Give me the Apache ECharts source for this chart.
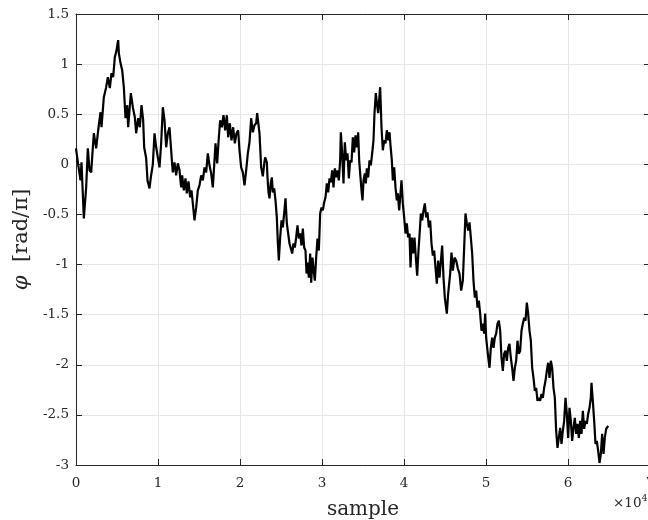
<!DOCTYPE html>
<html>
<head>
<meta charset="utf-8">
<script src="https://cdn.jsdelivr.net/npm/echarts@6/dist/echarts.min.js"></script>
<style>
  html, body { margin: 0; padding: 0; background: #ffffff; }
  #chart { width: 648px; height: 520px; }
</style>
</head>
<body>
<div id="chart"></div>
<script>
// Unwrapped carrier phase (in units of pi) against sample index.
const sampleIdx = [
  0, 264, 549, 671, 955, 1240, 1443, 1646, 1850, 1972, 2175, 2460, 2704, 2988, 3110, 3394,
  3679, 3882, 4126, 4329, 4533, 4736, 4898, 5142, 5224, 5427, 5630, 5833, 6037, 6240, 6362, 6524,
  6687, 6931, 7175, 7337, 7581, 7784, 7988, 8191, 8313, 8557, 8720, 8963, 9126, 9370, 9573, 9777,
  9980, 10183, 10386, 10589, 10793, 10996, 11199, 11402,
  11728, 11809, 12012, 12215, 12418, 12622, 12825, 12947, 13150, 13353, 13516, 13719, 13923, 14085, 14248, 14451,
  14655, 14858, 15061, 15264, 15467, 15671, 15874, 16077, 16280, 16484, 16687, 16890, 17012, 17215, 17419, 17581,
  17784, 17988, 18191, 18394, 18557, 18760, 18963, 19167, 19370, 19573, 19776, 19939, 20142, 20345, 20549, 20752,
  20955, 21158, 21362, 21565, 21768, 21971, 22093, 22215, 22378, 22581, 22784,
  22988, 23069, 23272, 23354, 23476, 23598, 23760, 23882, 24004, 24167, 24329, 24492, 24614, 24736, 24898, 25061,
  25223, 25386, 25549, 25711, 25874, 26037, 26199, 26362, 26524, 26687, 26849, 27012, 27175, 27337, 27500, 27662,
  27825, 27988, 28110, 28232, 28394, 28557, 28679, 28841, 28963, 29126, 29289, 29451, 29614, 29776, 29939, 30101,
  30264, 30427, 30589, 30752, 30915, 31077, 31240, 31402, 31565, 31728, 31890, 32053, 32215, 32297, 32460, 32622,
  32785, 32947, 33110, 33272, 33435, 33598, 33760, 33923, 34085, 34248, 34411,
  34533, 34655, 34817, 34939, 35061, 35223, 35345, 35467, 35630, 35793, 35955, 36118, 36280, 36402, 36565, 36687,
  36850, 36972, 37093, 37175, 37256, 37419, 37581, 37744, 37906, 38069, 38232, 38354, 38516, 38638, 38801, 38963,
  39126, 39248, 39411, 39573, 39695, 39858, 40020, 40183, 40345, 40508, 40671, 40793, 40955, 41118, 41280, 41443,
  41606, 41768, 41931, 42053, 42215, 42378, 42541, 42703, 42866, 43028, 43191, 43354, 43516, 43679, 43841, 44004,
  44167,
  44329, 44654, 44817, 44979, 45223, 45386, 45630, 45792, 45955, 46158, 46362, 46565, 46768, 46971, 47175, 47337,
  47500, 47662, 47825, 47988, 48150, 48313, 48475, 48638, 48801, 48963, 49126, 49288, 49451, 49614, 49776, 49898,
  50020, 50223, 50427, 50589, 50752, 50914, 51077, 51240, 51402, 51565, 51727, 51890, 52052, 52215, 52378, 52540,
  52703, 52865, 53028, 53191, 53353, 53516, 53678, 53841, 54004, 54166, 54329, 54491, 54654, 54817, 54979, 55142,
  55304, 55467, 55630, 55792, 55955, 56118, 56280, 56443, 56605, 56768, 56931, 57093, 57256, 57418, 57581, 57744,
  57906, 58069, 58231, 58394, 58557, 58719, 58882, 59044, 59207, 59370, 59532, 59695, 59857, 60020, 60183, 60345,
  60508, 60670, 60833, 60996, 61158, 61321, 61483, 61646, 61809, 61971, 62134, 62296, 62459, 62622, 62784, 62865,
  63028, 63191, 63353, 63516, 63679, 63841, 64004, 64166, 64329, 64491, 64654, 64817, 64898
];

const phase = [
  0.16, 0.0, -0.16, 0.02, -0.54, -0.23, 0.16, -0.06, -0.08, 0.07, 0.31, 0.16, 0.34, 0.52, 0.37, 0.67,
  0.77, 0.87, 0.76, 0.91, 0.87, 1.07, 1.12, 1.24, 1.11, 1.01, 0.94, 0.77, 0.46, 0.59, 0.37, 0.54,
  0.71, 0.57, 0.47, 0.31, 0.46, 0.37, 0.59, 0.44, 0.17, 0.06, -0.16, -0.24, -0.13, 0.0, 0.31, 0.17,
  0.07, -0.03, 0.21, 0.57, 0.44, 0.17, 0.31, 0.37,
  0.0, -0.08, 0.02, -0.11, 0.01, -0.06, -0.23, -0.11, -0.26, -0.14, -0.29, -0.17, -0.33, -0.26, -0.39, -0.56,
  -0.43, -0.26, -0.21, -0.11, -0.16, -0.03, -0.08, 0.11, -0.01, -0.09, -0.23, 0.04, 0.21, 0.01, 0.27, 0.44,
  0.37, 0.49, 0.34, 0.49, 0.27, 0.41, 0.24, 0.37, 0.21, 0.31, 0.34, 0.14, -0.03, -0.08, -0.21, -0.06,
  0.11, 0.22, 0.46, 0.32, 0.39, 0.41, 0.51, 0.52, 0.31, -0.03, -0.12,
  0.03, 0.07, 0.02, -0.13, -0.28, -0.34, -0.18, -0.13, -0.28, -0.24, -0.36, -0.53, -0.78, -0.96, -0.73, -0.56,
  -0.63, -0.49, -0.34, -0.59, -0.69, -0.79, -0.78, -0.89, -0.79, -0.83, -0.73, -0.61, -0.74, -0.69, -0.81, -0.64,
  -0.83, -0.86, -1.09, -0.98, -1.13, -0.89, -1.18, -0.93, -1.04, -1.16, -0.93, -0.74, -0.86, -0.49, -0.43, -0.46,
  -0.38, -0.33, -0.19, -0.28, -0.14, -0.18, -0.06, -0.23, -0.04, -0.13, -0.06, -0.16, 0.04, 0.32, 0.11, -0.19,
  0.22, 0.04, 0.11, -0.14, 0.04, 0.02, 0.27, 0.12, 0.29, 0.17, 0.32,
  0.04, -0.09, -0.26, -0.36, -0.16, -0.09, -0.19, -0.04, -0.13, 0.04, -0.01, 0.11, 0.24, 0.51, 0.71, 0.61,
  0.51, 0.64, 0.77, 0.57, 0.37, 0.14, 0.24, 0.21, 0.34, 0.24, 0.32, 0.19, 0.04, -0.16, -0.03, -0.23,
  -0.36, -0.29, -0.46, -0.29, -0.16, -0.39, -0.53, -0.69, -0.59, -0.73, -0.69, -1.03, -0.73, -0.89, -0.73, -0.93,
  -1.11, -0.86, -0.66, -0.49, -0.56, -0.46, -0.39, -0.53, -0.48, -0.63, -0.56, -0.79, -0.91, -0.86, -1.03, -1.19,
  -0.96,
  -1.13, -0.81, -1.13, -1.33, -1.49, -1.29, -1.09, -0.88, -1.06, -0.93, -0.96, -1.04, -1.09, -1.26, -1.16, -0.83,
  -0.49, -0.59, -0.66, -0.58, -0.73, -0.89, -1.16, -1.33, -1.26, -1.43, -1.36, -1.49, -1.66, -1.59, -1.69, -1.49,
  -1.73, -1.89, -2.03, -1.83, -1.73, -1.83, -1.73, -1.69, -1.59, -1.56, -1.66, -1.93, -2.06, -1.89, -1.86, -1.96,
  -1.83, -1.79, -1.93, -2.03, -2.16, -2.03, -1.96, -1.76, -1.89, -1.86, -1.66, -1.59, -1.53, -1.56, -1.38, -1.49,
  -1.66, -1.76, -2.03, -2.13, -2.26, -2.23, -2.36, -2.33, -2.36, -2.29, -2.33, -2.23, -2.16, -2.06, -1.98, -2.13,
  -1.96, -2.03, -2.23, -2.33, -2.66, -2.83, -2.73, -2.63, -2.79, -2.66, -2.56, -2.33, -2.49, -2.73, -2.43, -2.56,
  -2.76, -2.63, -2.53, -2.69, -2.59, -2.73, -2.56, -2.69, -2.46, -2.64, -2.56, -2.59, -2.49, -2.43, -2.33, -2.18,
  -2.36, -2.56, -2.79, -2.76, -2.86, -2.98, -2.89, -2.69, -2.89, -2.73, -2.64, -2.63, -2.61
];

// Axis ranges and tick spacing
const xRange = [0, 70000];
const xStep = 10000;      // tick labels are shown in units of 10^4
const yRange = [-3, 1.5];
const yStep = 0.5;

const points = sampleIdx.map((s, i) => [s, phase[i]]);

const AX = '#262626';
const GRID = '#e6e6e6';
const FONT = 'DejaVu Serif';

const chart = echarts.init(document.getElementById('chart'), null, { renderer: 'canvas' });

const baseX = {
  type: 'value', min: xRange[0], max: xRange[1], interval: xStep,
  axisLine: { show: true, onZero: false, lineStyle: { color: AX, width: 1 } },
  axisTick: { show: true, inside: true, length: 6, lineStyle: { color: AX, width: 1 } },
  splitLine: { show: false }
};
const baseY = {
  type: 'value', min: yRange[0], max: yRange[1], interval: yStep,
  axisLine: { show: true, onZero: false, lineStyle: { color: AX, width: 1 } },
  axisTick: { show: true, inside: true, length: 6, lineStyle: { color: AX, width: 1 } },
  splitLine: { show: false }
};

chart.setOption({
  animation: false,
  backgroundColor: '#ffffff',
  grid: { left: 76, top: 14, width: 574, height: 451, containLabel: false, outerBoundsMode: 'none' },
  xAxis: [
    Object.assign({}, baseX, {
      position: 'bottom',
      splitLine: { show: true, lineStyle: { color: GRID, width: 1 } },
      axisLabel: {
        show: true, margin: 11, color: AX, fontFamily: FONT, fontSize: 13.5,
        showMinLabel: true, showMaxLabel: true, hideOverlap: false,
        formatter: v => String(v / xStep)
      },
      name: 'sample', nameLocation: 'middle', nameGap: 35,
      nameTextStyle: { color: AX, fontFamily: FONT, fontSize: 20 }
    }),
    Object.assign({}, baseX, { position: 'top', axisLabel: { show: false } })
  ],
  yAxis: [
    Object.assign({}, baseY, {
      position: 'left',
      splitLine: { show: true, lineStyle: { color: GRID, width: 1 } },
      axisLabel: {
        show: true, margin: 7, color: AX, fontFamily: FONT, fontSize: 13.5,
        showMinLabel: true, showMaxLabel: true,
        formatter: v => String(v)
      },
      name: '{i|φ}  [rad/π]', nameLocation: 'middle', nameGap: 38, nameRotate: 90,
      nameTextStyle: {
        color: AX, fontFamily: FONT, fontSize: 21,
        rich: { i: { fontStyle: 'italic', fontFamily: FONT, fontSize: 21, color: AX } }
      }
    }),
    Object.assign({}, baseY, { position: 'right', axisLabel: { show: false } })
  ],
  graphic: [{
    type: 'text', left: 613, top: 494, silent: true,
    style: {
      text: '×10{s|4}', fill: AX, font: '13.5px "DejaVu Serif"',
      rich: { s: { fontSize: 9.5, fontFamily: FONT, verticalAlign: 'top', padding: [0, 0, 8, 0] } }
    }
  }],
  series: [{
    type: 'line', xAxisIndex: 0, yAxisIndex: 0,
    data: points, showSymbol: false, symbol: 'none',
    lineStyle: { color: '#000000', width: 2.2 },
    clip: true
  }]
});
</script>
</body>
</html>
